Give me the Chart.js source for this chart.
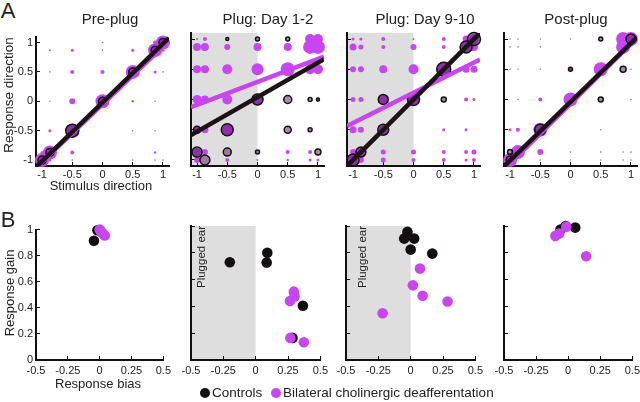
<!DOCTYPE html>
<html>
<head>
<meta charset="utf-8">
<script src="https://cdn.jsdelivr.net/npm/chart.js@4"></script>
<style>
  html, body { margin: 0; padding: 0; background: #fff; }
  #fig { position: relative; width: 640px; height: 402px; overflow: hidden;
         font-family: "Liberation Sans", Arial, sans-serif; color: #222; }
  #fig canvas { position: absolute; }
  .t { position: absolute; white-space: nowrap; line-height: 1; transform: translate(-50%, -50%); }
  .rot { transform: translate(-50%, -50%) rotate(-90deg); }
  .dot { position: absolute; border-radius: 50%; transform: translate(-50%, -50%); }
</style>
</head>
<body>
<div id="fig"></div>
<script>
// ---- data ----
const titles = ['Pre-plug', 'Plug: Day 1-2', 'Plug: Day 9-10', 'Post-plug'];
const ticksA = [-1, -0.5, 0, 0.5, 1];
const ticksBx = [-0.5, -0.25, 0, 0.25, 0.5];
const ticksBy = [0, 0.2, 0.4, 0.6, 0.8, 1];

// panel A bubbles: [stimulus direction, response direction, radius]
const preDeaf = [
  [-1,-1,7],[-0.87,-0.87,7],[-0.5,-0.5,7],[0,0,7],[0.5,0.5,7],[0.87,0.87,7],[1,1,7],
  [-0.87,0.87,1],[-0.5,0.87,1.5],[0.5,0.87,1.5],[-0.5,0.5,2],[0,0.5,2],[0.87,0.5,1.5],
  [-0.5,0,3],[0.5,0,1.2],[-0.87,-0.5,1.5],[-0.5,-0.87,2],[0.87,-0.87,1.2],[1,0.87,1.5],
  [0.87,1,2],[-1,-0.87,1.5],[-0.87,-1,1.5]
];
const preCtrl = [
  [-1,-1,4],[-0.87,-0.87,4],[-0.5,-0.5,6.5],[0,0,4],[0.5,0.5,4],[0.87,0.87,4],[1,1,4],
  [0,1,0.8],[0,0.87,0.8],[-0.87,0.5,0.8],[1,0.5,0.8],[-0.87,0,0.8],[0.87,0,0.8],
  [0.5,-0.5,0.8],[0.87,-0.5,0.8],[-0.5,-1,0.8],[0.5,-1,0.8],[0.87,-1,0.8],[1,-1,0.8]
];
const day12Deaf = [
  [-0.87,1,2],[0.87,1,5],[1,1,5],
  [-1,0.87,4],[-0.87,0.87,4],[-0.5,0.87,3],[0,0.87,4],[0.5,0.87,4],[0.87,0.87,7],[1,0.87,7],
  [-1,0.5,4],[-0.87,0.5,4],[-0.5,0.5,5],[0,0.5,6],[0.5,0.5,7],[0.87,0.5,5],[1,0.5,5],
  [-1,0,4.5],[-0.87,0,4],[-0.5,0,5],[0,0,6],[1,0,2],
  [-1,-0.5,4],[-0.87,-0.5,3.5],[-0.5,-0.5,6],
  [-1,-0.87,4],[-0.87,-0.87,3],[0.5,-0.87,2],[0.87,-0.87,2],
  [-1,-1,3],[-0.5,-1,2],[0.5,-1,1.2],[0.87,-1,1.5],[1,-1,1.5]
];
const day12Ctrl = [
  [-1,1,1],[-0.5,1,1.5],[0,1,2],[0.5,1,2],
  [0,0,5.5],[0.5,0,4],[0.87,0,2],[1,0,1.5],
  [-1,-0.5,3.5],[-0.5,-0.5,6],[0.5,-0.5,3.5],[0.87,-0.5,2],
  [-1,-0.87,5],[-0.5,-0.87,4],[0,-0.87,2],[1,-0.87,3],
  [-0.87,-1,5],[0,-1,1]
];
const day910Deaf = [
  [-1,1,1.5],[-0.87,1,1.5],[-0.5,1,2],[0,1,1],[0.5,1,2],[0.87,1,3.5],[1,1,5],
  [-1,0.87,3.5],[-0.87,0.87,2.5],[-0.5,0.87,2],[0,0.87,3],[0.5,0.87,2],[0.87,0.87,6],[1,0.87,4],
  [-1,0.5,3],[-0.87,0.5,3],[-0.5,0.5,4],[0,0.5,5],[0.5,0.5,7],[0.87,0.5,3.5],[1,0.5,3.5],
  [-1,0,2.5],[-0.87,0,2.5],[-0.5,0,5],[0,0,6],[0.87,0,2],[1,0,1.5],
  [-1,-0.5,3.5],[-0.87,-0.5,3],[-0.5,-0.5,5],[0.5,-0.5,1.5],[0.87,-0.5,1.5],
  [-1,-0.87,3],[-0.87,-0.87,5],[-0.5,-0.87,2.5],[0,-0.87,2.5],[0.5,-0.87,2],[0.87,-0.87,2],[1,-0.87,2.5],
  [-1,-1,6],[-0.87,-1,3],[-0.5,-1,2.5],[0,-1,2],[0.5,-1,2],[0.87,-1,1.5],[1,-1,2]
];
const day910Ctrl = [
  [1,1,6.5],[0.87,0.87,6],[0.5,0.5,7],[-0.5,0,5],[0,0,6],[0.5,0,2.5],[1,0,0.8],
  [-0.5,-0.5,5.5],[-0.87,-0.87,5],[-1,-1,6]
];
const postDeaf = [
  [0.87,1,7],[1,1,7],[0.87,0.87,7],[0.5,0.5,7],[0,0.5,1.5],[-0.5,0,2],[0,0,7],
  [-1,-0.5,1.5],[-0.87,-0.5,2],[-0.5,-0.5,7],[-0.87,-0.87,7],[-0.5,-0.87,3],[-1,-1,7]
];
const postCtrl = [
  [-1,1,0.8],[-0.87,1,0.8],[-0.5,1,0.8],[0,1,0.8],[0.5,1,2],[1,1,5],
  [-1,0.87,0.8],[-0.87,0.87,0.8],[-0.5,0.87,0.8],
  [-1,0.5,0.8],[-0.87,0.5,0.8],[-0.5,0.5,0.8],[0,0.5,2],[0.87,0.5,3],[1,0.5,0.8],
  [-0.87,0,0.8],[0.5,0,2.5],[1,0,0.8],[0.5,-0.5,0.8],[-0.5,-0.5,5.5],
  [-1,-0.87,2.5],[0,-0.87,0.8],[0.5,-0.87,0.8],[0.87,-0.87,0.8],[1,-0.87,0.8],
  [-1,-1,4],[-0.5,-1,0.8],[0,-1,0.8],[0.5,-1,0.8],[0.87,-1,0.8],[1,-1,0.8]
];

// regression lines per panel: [slope, intercept]
const fitCtrl = [[1.0,-0.02],[0.57,0.04],[1.0,0.0],[0.97,-0.04]];
const fitDeaf = [[0.98,-0.05],[0.38,0.29],[0.5,0.11],[0.99,-0.07]];

// panel B: [response bias, response gain]
const preBCtrl = [[-0.045,0.915],[-0.018,0.995]];
const preBDeaf = [[0.0,1.0],[0.01,0.985],[0.02,0.975],[0.03,0.965],[0.04,0.955]];
const d12BCtrl = [[-0.2,0.73],[0.09,0.8],[0.085,0.727],[0.365,0.405],[0.285,0.165]];
const d12BDeaf = [[0.295,0.51],[0.3,0.474],[0.265,0.44],[0.268,0.165],[0.372,0.132]];
const d910BCtrl = [[-0.025,0.956],[-0.05,0.906],[0.027,0.906],[0.0,0.824],[0.167,0.794]];
const d910BDeaf = [[0.072,0.682],[0.017,0.557],[0.092,0.479],[0.285,0.437],[-0.217,0.349]];
const postBCtrl = [[-0.02,1.0],[0.055,0.988],[-0.06,0.974]];
const postBDeaf = [[-0.015,0.995],[-0.07,0.944],[-0.1,0.926],[0.14,0.774]];

const bubblesA = [[preCtrl, preDeaf], [day12Ctrl, day12Deaf], [day910Ctrl, day910Deaf], [postCtrl, postDeaf]];
const pointsB = [[preBCtrl, preBDeaf], [d12BCtrl, d12BDeaf], [d910BCtrl, d910BDeaf], [postBCtrl, postBDeaf]];
const plugged = [false, true, true, false];

// ---- layout ----
const FONT = '"Liberation Sans", Arial, sans-serif';
const MAG = '#c846f0';
const leftA = [36, 191, 347, 504], widthA = [133, 133, 133, 133];
const leftB = [36, 191, 346, 504], widthB = [131, 133, 133, 132];
const topA = 33, heightA = 133, topB = 226, heightB = 134;
const PADL = 40, PADT = 10, PADR = 12, PADB = 24;

const fig = document.getElementById('fig');

const shade = {
  id: 'shade',
  beforeDraw(chart) {
    const {ctx, chartArea, scales: {x}} = chart;
    const x0 = x.getPixelForValue(x.min), x1 = x.getPixelForValue(0);
    ctx.save();
    ctx.fillStyle = '#dedede';
    ctx.fillRect(x0, chartArea.top, x1 - x0, chartArea.bottom - chartArea.top);
    ctx.restore();
  }
};

function axis(min, max, ticks, labels, pad, fit) {
  return {
    type: 'linear', min: min, max: max,
    afterBuildTicks: s => { s.ticks = ticks.map(v => ({value: v})); },
    afterFit: fit,
    border: {color: '#111', width: 2},
    grid: {drawOnChartArea: false, color: '#111', lineWidth: 1, tickLength: -4},
    ticks: {display: labels, padding: pad, color: '#222', font: {family: FONT, size: 11},
            callback: v => String(v)}
  };
}

function makeCanvas(left, top, w, h) {
  const c = document.createElement('canvas');
  c.width = PADL + w + PADR; c.height = PADT + h + PADB;
  c.style.left = (left - PADL) + 'px'; c.style.top = (top - PADT) + 'px';
  fig.appendChild(c);
  return c;
}

function baseOptions(xs, ys) {
  return {
    responsive: false, animation: false, events: [],
    layout: {padding: {left: 0, top: PADT, right: PADR, bottom: 0}},
    plugins: {legend: {display: false}, tooltip: {enabled: false}},
    scales: {x: xs, y: ys}
  };
}

const fitLine = ([m, b]) => [-1.1, 1.1].map(x => ({x: x, y: m * x + b}));
const toBubble = arr => arr.map(([x, y, r]) => ({x: x, y: y, r: r}));
const toPoint = arr => arr.map(([x, y]) => ({x: x, y: y}));
const tiny = c => c.raw && c.raw.r < 1.2;

// Panel A
for (let i = 0; i < 4; i++) {
  const c = makeCanvas(leftA[i], topA, widthA[i], heightA);
  const xs = axis(-1.1, 1.1, ticksA, true, 6, s => { s.height = PADB; });
  const ys = axis(-1.1, 1.1, ticksA, i === 0, 7, s => { s.width = PADL; });
  new Chart(c, {
    type: 'bubble',
    data: {
      datasets: [
        {type: 'line', data: fitLine(fitCtrl[i]), borderColor: '#1b1416', borderWidth: 4.5,
         pointRadius: 0, borderCapStyle: 'butt', order: 0},
        {type: 'line', data: fitLine(fitDeaf[i]), borderColor: MAG, borderWidth: 4.5,
         pointRadius: 0, borderCapStyle: 'butt', order: 1},
        {data: toBubble(bubblesA[i][0]),
         backgroundColor: c => tiny(c) ? '#8a8090' : 'rgba(85,25,95,0.5)',
         borderColor: '#151015', borderWidth: c => tiny(c) ? 0 : 1.5, clip: false, order: 2},
        {data: toBubble(bubblesA[i][1]), backgroundColor: MAG, borderWidth: 0,
         clip: false, order: 3}
      ]
    },
    options: baseOptions(xs, ys),
    plugins: plugged[i] ? [shade] : []
  });
}

// Panel B
for (let i = 0; i < 4; i++) {
  const c = makeCanvas(leftB[i], topB, widthB[i], heightB);
  const xs = axis(-0.5, 0.5, ticksBx, true, 8, s => { s.height = PADB; });
  const ys = axis(0, 1, ticksBy, i === 0, 7, s => { s.width = PADL; });
  new Chart(c, {
    type: 'scatter',
    data: {
      datasets: [
        {data: toPoint(pointsB[i][1]), backgroundColor: MAG, borderWidth: 0,
         pointRadius: 5.3, clip: false, order: 0},
        {data: toPoint(pointsB[i][0]), backgroundColor: '#141012', borderWidth: 0,
         pointRadius: 5.3, clip: false, order: 1}
      ]
    },
    options: baseOptions(xs, ys),
    plugins: plugged[i] ? [shade] : []
  });
}

// ---- text ----
function label(text, x, y, size, rot) {
  const d = document.createElement('div');
  d.className = 't' + (rot ? ' rot' : '');
  d.textContent = text;
  d.style.left = x + 'px'; d.style.top = y + 'px'; d.style.fontSize = size + 'px';
  fig.appendChild(d);
  return d;
}
function dot(x, y, color) {
  const d = document.createElement('div');
  d.className = 'dot';
  d.style.left = x + 'px'; d.style.top = y + 'px';
  d.style.width = '10px'; d.style.height = '10px'; d.style.background = color;
  fig.appendChild(d);
}

label('A', 8, 11, 22);
label('B', 8, 220, 22);
[110, 268, 425, 576].forEach((cx, i) => label(titles[i], cx, 18, 15));
label('Response direction', 9, 95, 13.5, true);
label('Stimulus direction', 101, 185, 13);
label('Response gain', 9, 293, 13, true);
label('Response bias', 98, 383, 13);
label('Plugged ear', 202, 257, 11.5, true);
label('Plugged ear', 363, 257, 11.5, true);

dot(205, 393, '#141012');
const l1 = label('Controls', 0, 393, 13.5); l1.style.left = '212px'; l1.style.transform = 'translate(0,-50%)';
dot(276, 393, MAG);
const l2 = label('Bilateral cholinergic deafferentation', 0, 393, 13.5); l2.style.left = '283px'; l2.style.transform = 'translate(0,-50%)';
</script>
</body>
</html>
